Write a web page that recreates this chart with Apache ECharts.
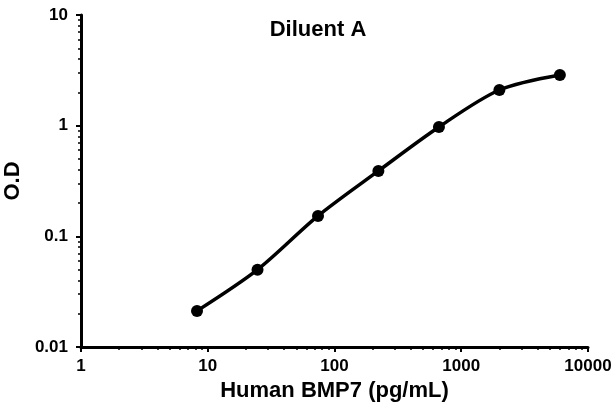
<!DOCTYPE html>
<html><head><meta charset="utf-8">
<script src="https://cdn.jsdelivr.net/npm/echarts@6/dist/echarts.min.js"></script>
<style>html,body{margin:0;padding:0;background:#fff}#c{width:614px;height:404px}</style>
</head><body><div id="c"></div>
<script>
const concentrations = [8.23, 24.7, 74.1, 222, 667, 2000, 6000];
const odValues = [0.0212, 0.050, 0.153, 0.390, 0.973, 2.10, 2.87];
const xMinorTicks = [2,3,4,5,6,7,8,9,20,30,40,50,60,70,80,90,200,300,400,500,600,700,800,900,2000,3000,4000,5000,6000,7000,8000,9000];
const yMinorTicks = [0.02,0.03,0.04,0.05,0.06,0.07,0.08,0.09,0.2,0.3,0.4,0.5,0.6,0.7,0.8,0.9,2,3,4,5,6,7,8,9];
const FONT = '"Liberation Sans", Arial, sans-serif';
const chart = echarts.init(document.getElementById('c'));
const lbl = {fontFamily: FONT, fontWeight: 'bold', fontSize: 17, color: '#000', formatter: v => String(v)};
chart.setOption({
  animation: false,
  title: {text: 'Diluent A', left: 313, top: 14, textAlign: 'center',
    textStyle: {fontFamily: FONT, fontWeight: 'bold', fontSize: 22, color: '#000'}},
  grid: {left: 81, right: 26, top: 15, bottom: 57, containLabel: false, outerBoundsMode: 'none'},
  xAxis: [{
    type: 'log', logBase: 10, min: 1, max: 10000,
    name: 'Human BMP7 (pg/mL)', nameLocation: 'middle', nameGap: 26,
    nameTextStyle: {fontFamily: FONT, fontWeight: 'bold', fontSize: 22, color: '#000'},
    axisLine: {lineStyle: {color: '#000', width: 3}},
    axisTick: {length: 5, lineStyle: {color: '#000', width: 2}},
    axisLabel: Object.assign({margin: 11}, lbl),
    splitLine: {show: false}
  }, {
    type: 'log', logBase: 10, min: 1, max: 10000, position: 'bottom',
    axisLine: {show: false},
    axisTick: {length: 3, customValues: xMinorTicks, lineStyle: {color: '#000', width: 1.5}},
    axisLabel: {show: false}, splitLine: {show: false}
  }],
  yAxis: [{
    type: 'log', logBase: 10, min: 0.01, max: 10,
    name: 'O.D', nameLocation: 'middle', nameGap: 52,
    nameTextStyle: {fontFamily: FONT, fontWeight: 'bold', fontSize: 22, color: '#000'},
    axisLine: {lineStyle: {color: '#000', width: 3}},
    axisTick: {length: 5, lineStyle: {color: '#000', width: 2}},
    axisLabel: Object.assign({margin: 13}, lbl),
    splitLine: {show: false}
  }, {
    type: 'log', logBase: 10, min: 0.01, max: 10, position: 'left',
    axisLine: {show: false},
    axisTick: {length: 3, customValues: yMinorTicks, lineStyle: {color: '#000', width: 1.5}},
    axisLabel: {show: false}, splitLine: {show: false}
  }],
  series: [{
    type: 'line', smooth: 0.3,
    data: concentrations.map((c, i) => [c, odValues[i]]),
    symbol: 'circle', symbolSize: 12,
    itemStyle: {color: '#000'},
    lineStyle: {color: '#000', width: 3.5}
  }]
});
</script></body></html>
